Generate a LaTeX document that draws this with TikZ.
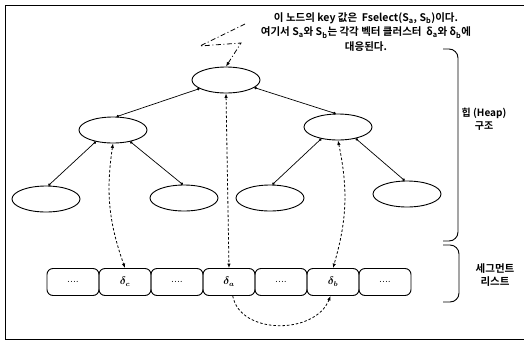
\documentclass[tikz,border=0pt]{standalone}
\usepackage{fontspec}
\newfontfamily\kr{Noto Sans CJK KR}[BoldFont={Noto Sans CJK KR Bold}]
\usetikzlibrary{arrows.meta,shapes.geometric}
\begin{document}
\begin{tikzpicture}[x=1pt,y=1pt,
  heapnode/.style={draw, ellipse, inner sep=0pt, minimum width=68pt, minimum height=26pt, line width=0.9pt},
  segbox/.style={draw, rounded corners=6pt, inner sep=0pt, minimum width=52pt, minimum height=27pt, line width=0.9pt, font=\boldmath\fontsize{10.5}{12}\selectfont},
  treeedge/.style={line width=0.7pt, {Circle[length=2.6pt]}-{Circle[length=2.6pt]}},
  linkline/.style={line width=0.8pt, dash pattern=on 2.5pt off 2pt, {Latex[length=4.5pt,width=3.5pt]}-{Latex[length=4.5pt,width=3.5pt]}},
  bracket/.style={line width=0.9pt, rounded corners=9pt},
  label/.style={font=\kr\bfseries\fontsize{10}{13.5}\selectfont, align=center, inner sep=0pt}
]
\useasboundingbox (0,0) rectangle (524,-343);

% outer frame
\draw[line width=1pt] (524,-5) -- (5,-5) -- (5,-339) -- (524,-339);

% heap nodes
\node[heapnode] (root) at (226,-80) {};
\node[heapnode] (lm) at (113,-130) {};
\node[heapnode] (rm) at (338,-127) {};
\node[heapnode] (ll) at (46,-199) {};
\node[heapnode] (lr) at (184,-198) {};
\node[heapnode] (rl) at (270,-198) {};
\node[heapnode] (rr) at (407,-194) {};

% tree edges
\draw[treeedge] (root.198) -- (lm.75);
\draw[treeedge] (root.345) -- (rm.100);
\draw[treeedge] (lm.214) -- (ll.80);
\draw[treeedge] (lm.326) -- (lr.95);
\draw[treeedge] (rm.215) -- (rl.80);
\draw[treeedge] (rm.327) -- (rr.100);

% segment list
\node[segbox] (s1) at (73,-282) {....};
\node[segbox] (s2) at (125,-282) {$\delta_c$};
\node[segbox] (s3) at (177,-282) {....};
\node[segbox] (s4) at (229,-282) {$\delta_a$};
\node[segbox] (s5) at (281,-282) {....};
\node[segbox] (s6) at (333,-282) {$\delta_b$};
\node[segbox] (s7) at (385,-282) {....};

% links between heap nodes and segments
\draw[linkline] (lm.south) to[bend right=14] (s2.north);
\draw[linkline] (root.south) -- (s4.north);
\draw[linkline] (rm.south) to[bend left=14] (s6.north);
\draw[line width=0.8pt, dash pattern=on 2.5pt off 2pt, -{Latex[length=4.5pt,width=3.5pt]}]
  (s4.-75) .. controls (240,-335) and (315,-335) .. (s6.-100);

% callout to the root
\coordinate (c1) at (245,-24);
\coordinate (c2) at (200,-46);
\coordinate (c3) at (241,-43);
\draw[line width=0.8pt, dash pattern=on 5pt off 2.5pt on 1pt off 2.5pt, -{Latex[length=4.5pt,width=3.5pt]}]
  (c1) -- (c2) -- (c3) -- (root.north);

\node[label, font=\kr\bfseries\fontsize{10.5}{14.5}\selectfont] (note) at (366,-32) {이 노드의 key 값은\ \ Fselect(S\textsubscript{a}, S\textsubscript{b})이다.\\
여기서 S\textsubscript{a}와 S\textsubscript{b}는 각각 벡터 클러스터\ \ δ\textsubscript{a}와 δ\textsubscript{b}에\\
대응된다.};

% brackets on the right
\draw[bracket] (443,-49) -- (458,-49) -- (458,-241) -- (443,-241);
\draw[bracket] (443,-245) -- (459,-245) -- (459,-302) -- (443,-302);
\node[label] (heaplbl) at (484,-119) {힙 (Heap)\\구조};
\node[label, font=\kr\bfseries\fontsize{10.5}{13}\selectfont] (seglbl) at (495,-275) {세그먼트\\리스트};
\end{tikzpicture}
\end{document}
